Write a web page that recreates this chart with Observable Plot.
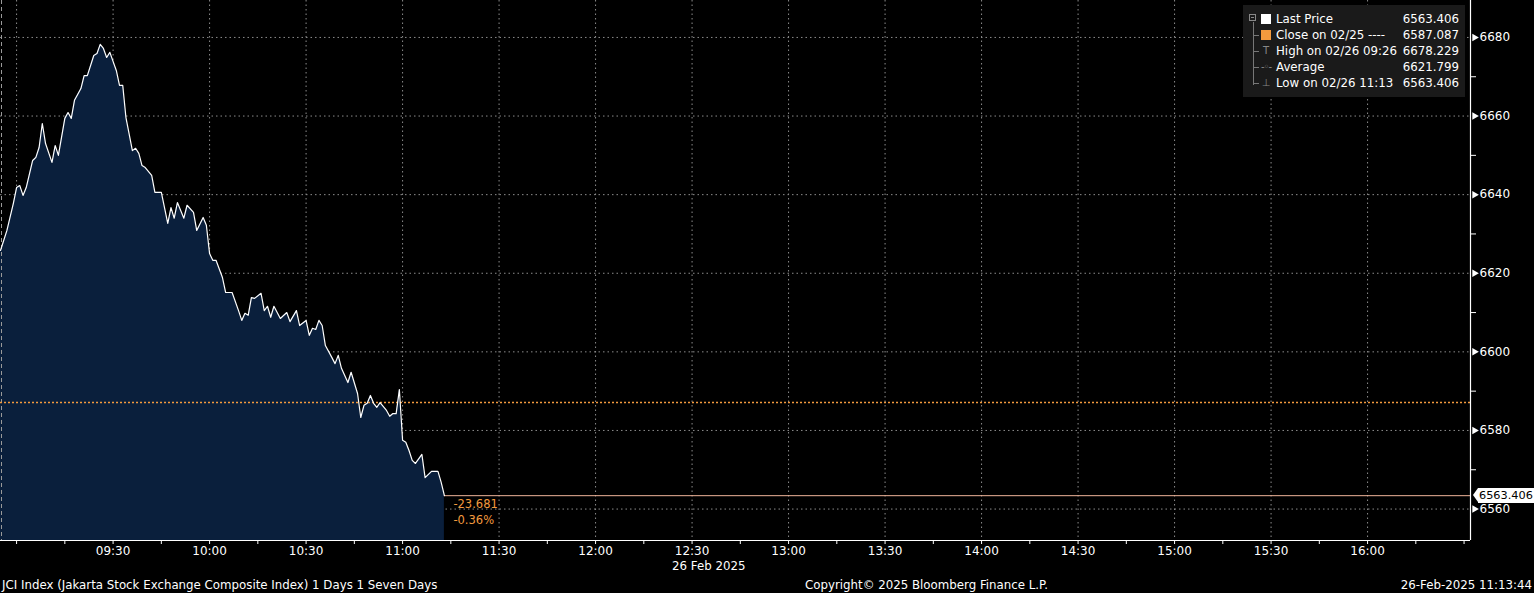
<!DOCTYPE html>
<html><head><meta charset="utf-8">
<script src="https://cdn.jsdelivr.net/npm/d3@7"></script>
<script src="https://cdn.jsdelivr.net/npm/@observablehq/plot@0.6"></script>
<style>
html,body{margin:0;padding:0;background:#000;width:1534px;height:593px;overflow:hidden;font-family:"DejaVu Sans",Verdana,sans-serif;color:#fff;}
#wrap{position:relative;width:1534px;height:593px;}
#chart svg{display:block;}
.abs{position:absolute;white-space:nowrap;}
#legend{position:absolute;left:1243px;top:5px;width:222px;height:92px;background:#1a1a1a;font-size:11.8px;}
#legend .row{position:absolute;left:0;width:222px;height:16px;line-height:16px;}
#legend .lab{position:absolute;left:33px;}
#legend .val{position:absolute;right:6px;}
#legend .sw{position:absolute;left:18px;top:3px;width:10px;height:10px;}
#legend .ic{position:absolute;left:16px;top:0;width:14px;height:16px;color:#888;font-size:10px;text-align:center;}
#tree{position:absolute;left:10px;top:17px;width:1px;height:63px;background:#777;}
.br{position:absolute;left:10px;width:6px;height:1px;background:#777;}
#lastbox{position:absolute;left:1478px;width:56px;height:15px;background:#fff;color:#000;font-size:11.3px;line-height:15px;text-align:left;padding-left:1px;}
#lastbox:before{content:"";position:absolute;left:-5px;top:0;border-top:7.5px solid transparent;border-bottom:7.5px solid transparent;border-right:5px solid #fff;}
.foot{position:absolute;top:577px;font-size:11.8px;line-height:16px;white-space:nowrap;}
</style></head><body>
<div id="wrap">
<div id="chart"></div>
</div>
<script>
// ---- data ----
const times = ["08:55","08:57","08:59","09:00","09:01","09:02","09:03","09:05","09:06","09:07",
"09:08","09:09","09:11","09:12","09:13","09:15","09:16","09:17","09:18","09:20",
"09:21","09:22","09:24","09:25","09:26","09:27","09:28","09:29","09:31","09:32",
"09:33","09:34","09:36","09:37","09:38","09:39","09:40","09:42","09:43","09:45",
"09:47","09:48","09:49","09:50","09:52","09:53","09:55","09:56","09:58","09:59",
"10:00","10:01","10:02","10:04","10:05","10:07","10:09","10:10","10:11","10:12",
"10:13","10:14","10:16","10:17","10:18","10:19","10:20","10:22","10:24","10:25",
"10:27","10:28","10:30","10:31","10:32","10:33","10:34","10:35","10:36","10:38",
"10:39","10:40","10:41","10:43","10:44","10:46","10:47","10:48","10:49","10:50",
"10:51","10:52","10:53","10:55","10:56","10:57","10:58","10:59","11:00","11:01",
"11:02","11:03","11:04","11:06","11:07","11:09","11:11","11:12","11:13"];
const prices = [6625.8,6630.9,6637.8,6641.8,6642.3,6639.8,6641.8,6648.7,6649.5,6652.0,
6658.1,6653.0,6648.2,6652.5,6650.0,6659.4,6660.9,6659.4,6664.0,6667.0,
6670.3,6670.3,6675.4,6675.9,6678.229,6677.2,6674.9,6676.2,6671.6,6667.8,
6667.8,6659.6,6651.2,6651.8,6650.5,6647.4,6646.9,6644.9,6640.6,6640.6,
6632.7,6636.7,6634.0,6638.0,6634.0,6637.3,6635.5,6630.9,6634.2,6632.2,
6625.0,6623.3,6623.3,6618.9,6615.1,6615.1,6610.5,6608.0,6609.8,6609.3,
6613.8,6613.6,6614.9,6610.5,6611.6,6608.8,6611.6,6608.5,6610.0,6607.7,
6610.5,6606.7,6608.0,6604.2,6606.0,6605.7,6608.0,6606.7,6601.6,6598.6,
6597.0,6599.1,6595.8,6592.2,6594.8,6589.4,6583.3,6586.4,6586.9,6588.9,
6586.9,6585.9,6587.1,6585.1,6583.6,6584.3,6584.3,6590.4,6577.5,6577.0,
6574.9,6572.4,6571.6,6573.9,6568.0,6569.6,6569.6,6566.8,6563.406];
const closePrice = 6587.087;
const lastPrice = 6563.406;
const change = "-23.681";
const changePct = "-0.36%";
const xStart = "08:55", xEnd = "16:32";
const yMin = 6552, yMax = 6689.4;
const gridTimes = ["09:00","09:30","10:00","10:30","11:00","11:30","12:00","12:30","13:00","13:30","14:00","14:30","15:00","15:30","16:00"];
const labelTimes = ["09:30","10:00","10:30","11:00","11:30","12:00","12:30","13:00","13:30","14:00","14:30","15:00","15:30","16:00"];
const minorTimes = ["09:00","09:15","09:30","09:45","10:00","10:15","10:30","10:45","11:00","11:15","11:30","11:45","12:00","12:15","12:30","12:45","13:00","13:15","13:30","13:45","14:00","14:15","14:30","14:45","15:00","15:15","15:30","15:45","16:00","16:15","16:30"];
const yLabelTicks = [6560,6580,6600,6620,6640,6660,6680];
const yMinorTicks = [6570,6590,6610,6630,6650,6670];
const legendLabels = ["Last Price","Close on 02/25 ----","High on 02/26 09:26","Average","Low on 02/26 11:13"];
const legendValues = ["6563.406","6587.087","6678.229","6621.799","6563.406"];
const dateLabel = "26 Feb 2025";
const footLeft = "JCI Index (Jakarta Stock Exchange Composite Index) 1 Days 1 Seven Days";
const footMid = "Copyright\u00a9 2025 Bloomberg Finance L.P.";
const footRight = "26-Feb-2025 11:13:44";

// ---- build ----
const T = s => { const [h,m] = s.split(":").map(Number); return new Date(Date.UTC(2025,1,26,h,m)); };
const data = times.map((t,i)=>({t:T(t), v:prices[i]}));
const last = data[data.length-1];
const xD = [T(xStart), T(xEnd)];
const fmt = d3.utcFormat("%H:%M");
const orange = "#f39a3e";
const grid = "#8c8c8c";
const FONT = "DejaVu Sans, Verdana, sans-serif";

const chart = Plot.plot({
  width:1534, height:576,
  marginLeft:0, marginRight:64, marginTop:0, marginBottom:36,
  style:{background:"#000", color:"#fff", fontFamily:FONT, fontSize:"11.5px"},
  x:{type:"utc", domain:xD, axis:null},
  y:{domain:[yMin,yMax], axis:null},
  marks:[
    Plot.ruleX(gridTimes.map(T), {stroke:grid, strokeDasharray:"1.5,3", strokeWidth:1}),
    Plot.ruleY(yLabelTicks, {stroke:grid, strokeDasharray:"1.5,3", strokeWidth:1}),
    Plot.areaY(data, {x:"t", y1:()=>yMin, y2:"v", fill:"#0a1f3c"}),
    Plot.ruleX([xD[0]], {stroke:"#9a9a9a", strokeDasharray:"4,3", dx:1}),
    Plot.ruleY([closePrice], {stroke:orange, strokeDasharray:"2,2", strokeWidth:1.5}),
    Plot.ruleY([lastPrice], {x1:()=>last.t, x2:()=>xD[1], stroke:"#f0b49a", strokeWidth:1}),
    Plot.lineY(data, {x:"t", y:"v", stroke:"#fff", strokeWidth:1.2}),
    Plot.text([last], {x:"t", y:"v", text:()=>change, dx:9, dy:9, fill:orange, textAnchor:"start", fontSize:11.5}),
    Plot.text([last], {x:"t", y:"v", text:()=>changePct, dx:9, dy:25, fill:orange, textAnchor:"start", fontSize:11.5}),
    Plot.ruleX([xD[1]], {stroke:"#fff", strokeWidth:1.2}),
    Plot.ruleY([yMin], {stroke:"#fff", strokeWidth:1.2}),
    Plot.axisX(minorTimes.map(T), {tickSize:4, tickFormat:()=>"", stroke:"#fff", label:null}),
    Plot.axisX(labelTimes.map(T), {tickSize:0, tickPadding:6, tickFormat:fmt, fill:"#fff", fontSize:12, label:null}),
    Plot.axisY(yMinorTicks, {anchor:"right", tickSize:5, tickFormat:()=>"", stroke:"#fff", label:null}),
    Plot.axisY(yLabelTicks, {anchor:"right", tickSize:0, tickPadding:9, tickFormat:d3.format("d"), fill:"#fff", fontSize:12, label:null}),
    Plot.dot(yLabelTicks, {x:()=>xD[1], y:d=>d, symbol:"triangle", r:2.8, rotate:90, fill:"#fff", dx:4})
  ]
});
const wrap = document.getElementById("wrap");
document.getElementById("chart").appendChild(chart);

// last price label box
const ys = chart.scale("y");
const box = document.createElement("div");
box.id = "lastbox";
box.textContent = lastPrice.toFixed(3);
box.style.top = (ys.apply(lastPrice) - 7.5) + "px";
wrap.appendChild(box);

// date label under axis
const dl = document.createElement("div");
dl.className = "abs";
dl.style.cssText = "left:672px;top:559px;font-size:11.8px;";
dl.textContent = dateLabel;
wrap.appendChild(dl);

// legend
const lg = document.createElement("div");
lg.id = "legend";
let html = '<div id="tree"></div>';
html += '<div style="position:absolute;left:6px;top:9px;width:7px;height:7px;border:1px solid #888;box-sizing:border-box;"><div style="position:absolute;left:1px;top:2px;width:3px;height:1px;background:#888"></div></div>';
const icons = [
  '<div class="sw" style="background:#fff"></div>',
  '<div class="sw" style="background:'+orange+'"></div>',
  '<div class="ic">T</div>',
  '<div class="ic" style="letter-spacing:-1px">-\u25e6-</div>',
  '<div class="ic">\u22a5</div>'
];
legendLabels.forEach((l,i)=>{
  const top = 6 + i*16;
  if (i>0) html += '<div class="br" style="top:'+(top+8)+'px"></div>';
  html += '<div class="row" style="top:'+top+'px">'+icons[i]+'<span class="lab">'+l+'</span><span class="val">'+legendValues[i]+'</span></div>';
});
lg.innerHTML = html;
wrap.appendChild(lg);

// footer
const f1 = document.createElement("div"); f1.className="foot"; f1.style.left="2px"; f1.textContent=footLeft; wrap.appendChild(f1);
const f2 = document.createElement("div"); f2.className="foot"; f2.style.left="805px"; f2.textContent=footMid; wrap.appendChild(f2);
const f3 = document.createElement("div"); f3.className="foot"; f3.style.right="2px"; f3.textContent=footRight; wrap.appendChild(f3);
</script>
</body></html>
